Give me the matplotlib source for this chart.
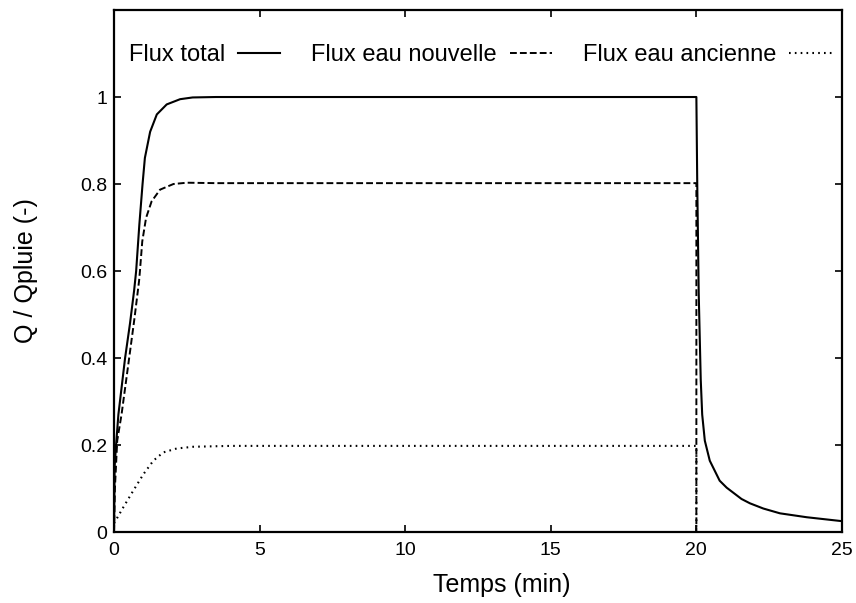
import matplotlib
matplotlib.use("Agg")
import matplotlib.pyplot as plt

plt.rcParams['font.family'] = ['Liberation Sans', 'DejaVu Sans']

# time (min) and Q/Qpluie
t_total = [0, 0.02, 0.07, 0.15, 0.38, 0.55, 0.69, 0.76, 0.87, 0.98, 1.06, 1.24,
           1.47, 1.81, 2.27, 2.7, 3.5, 20.0, 20.03, 20.08, 20.15, 20.2, 20.29,
           20.46, 20.8, 21.04, 21.55, 21.84, 22.3, 22.87, 23.79, 25.0]
q_total = [0, 0.15, 0.2, 0.27, 0.4, 0.48, 0.555, 0.6, 0.707, 0.8, 0.86, 0.92,
           0.96, 0.983, 0.995, 0.999, 1.0, 1.0, 0.8, 0.55, 0.35, 0.27, 0.21,
           0.164, 0.118, 0.102, 0.076, 0.066, 0.054, 0.043, 0.034, 0.025]

t_new = [0, 0.03, 0.11, 0.26, 0.52, 0.7, 0.86, 0.89, 0.97, 1.1, 1.29, 1.58,
         2.04, 2.5, 3.5, 20.0, 20.0]
q_new = [0, 0.1, 0.21, 0.271, 0.4, 0.49, 0.577, 0.6, 0.668, 0.722, 0.76, 0.787,
         0.8, 0.803, 0.802, 0.802, 0]

t_old = [0, 0.32, 0.66, 1.01, 1.35, 1.69, 2.15, 2.72, 4.0, 20.0, 20.0]
q_old = [0.02, 0.057, 0.095, 0.133, 0.164, 0.183, 0.192, 0.196, 0.198, 0.198, 0]

x_ticks = [0, 5, 10, 15, 20, 25]
y_ticks = [0, 0.2, 0.4, 0.6, 0.8, 1]
y_tick_labels = ['0', '0.2', '0.4', '0.6', '0.8', '1']

fig = plt.figure(figsize=(8.56, 6.03), dpi=100)
ax = fig.add_axes([0.1332, 0.1177, 0.8504, 0.8657])

ax.plot(t_total, q_total, color='black', lw=1.5, label='Flux total')
ax.plot(t_new, q_new, color='black', lw=1.4, dashes=(3.5, 1.6),
        label='Flux eau nouvelle')
ax.plot(t_old, q_old, color='black', lw=1.5, dashes=(0.8, 2.0),
        label='Flux eau ancienne')

ax.set_xlim(0, 25)
ax.set_ylim(0, 1.2)
ax.set_xticks(x_ticks)
ax.set_yticks(y_ticks)
ax.set_yticklabels(y_tick_labels)

for s in ax.spines.values():
    s.set_linewidth(1.6)
ax.tick_params(direction='in', top=True, right=True, length=5, width=1.2,
               labelsize=14)
ax.tick_params(axis='x', pad=7)
ax.tick_params(axis='y', pad=5)

ax.set_xlabel('Temps (min)', fontsize=18)
ax.set_ylabel('Q / Qpluie (-)', fontsize=18)
ax.xaxis.set_label_coords(0.532, -0.078)
ax.yaxis.set_label_coords(-0.105, 0.5)

ax.legend(ncol=3, markerfirst=False, frameon=False, fontsize=17,
          loc='center', bbox_to_anchor=(0.503, 0.914),
          handlelength=1.8, handletextpad=0.55, columnspacing=1.3)

fig.savefig('out.png', dpi=100)
